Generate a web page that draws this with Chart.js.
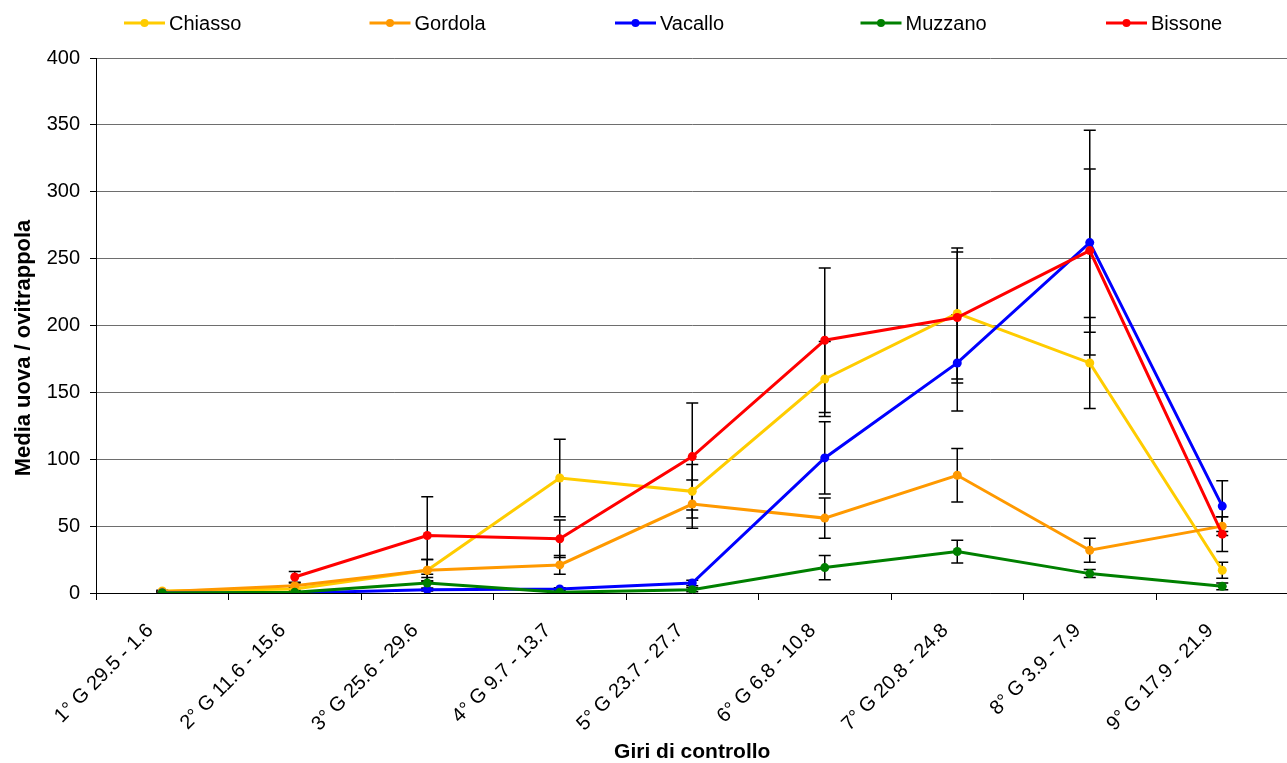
<!DOCTYPE html>
<html lang="it">
<head>
<meta charset="UTF-8">
<title>Media uova / ovitrappola</title>
<script src="https://cdn.jsdelivr.net/npm/chart.js"></script>
<style>
    body { margin: 0; background: #fff; overflow: hidden; }
    canvas { display: block; }
</style>
</head>
<body>
<canvas id="grafico" width="1293" height="763"></canvas>
<script>
// Giri di controllo
const giri = ["1° G 29.5 - 1.6", "2° G 11.6 - 15.6", "3° G 25.6 - 29.6", "4° G 9.7 - 13.7",
    "5° G 23.7 - 27.7", "6° G 6.8 - 10.8", "7° G 20.8 - 24.8", "8° G 3.9 - 7.9", "9° G 17.9 - 21.9"];

// medie uova per ovitrappola
const chiasso = [1.5, 3, 17, 86, 76, 160, 209, 172, 17];
const gordola = [1, 5.5, 17, 21, 66.5, 56, 88, 32, 50];
const vacallo = [0, 0, 2.5, 3, 7.5, 101, 172, 262, 65];
const muzzano = [0, 0.5, 7.5, 0.5, 2.5, 19, 31, 14.5, 5];
const bissone = [null, 12, 43, 40.5, 102, 189, 206, 256, 44];

// barre d'errore (+/-)
const errChiasso = [0.5, 1, 8, 29, 20, 28, 49, 34, 6];
const errGordola = [0.5, 2, 8, 7, 18, 15, 20, 9, 7];
const errVacallo = [0, 0.5, 1, 1, 2, 27, 36, 84, 19];
const errMuzzano = [0, 0.5, 4, 0.5, 1.5, 9, 8.5, 3, 2.5];
const errBissone = [null, 4, 29, 14, 40, 54, 49, 61, 13];

const yTicks = [0, 50, 100, 150, 200, 250, 300, 350, 400];

const FONT = 'Arial, "Liberation Sans", sans-serif';

function serie(nome, dati, errori, colore, ordine) {
    return {
        label: nome,
        data: dati,
        errori: errori,
        borderColor: colore,
        backgroundColor: colore,
        pointBackgroundColor: colore,
        pointBorderWidth: 0,
        pointRadius: 4.5,
        borderWidth: 3,
        tension: 0,
        order: ordine
    };
}

// disegna le barre d'errore sotto le linee
const barreErrore = {
    id: 'barreErrore',
    beforeDatasetsDraw(chart) {
        const ctx = chart.ctx;
        const y = chart.scales.y;
        ctx.save();
        ctx.strokeStyle = '#000';
        ctx.lineWidth = 1.5;
        chart.data.datasets.forEach((ds, i) => {
            const meta = chart.getDatasetMeta(i);
            ds.data.forEach((v, j) => {
                const e = ds.errori[j];
                if (v === null || !e) return;
                const px = meta.data[j].x;
                const yTop = y.getPixelForValue(v + e);
                const yBot = y.getPixelForValue(Math.max(v - e, 0));
                ctx.beginPath();
                ctx.moveTo(px, yTop); ctx.lineTo(px, yBot);
                ctx.moveTo(px - 6, yTop); ctx.lineTo(px + 6, yTop);
                ctx.moveTo(px - 6, yBot); ctx.lineTo(px + 6, yBot);
                ctx.stroke();
            });
        });
        ctx.restore();
    }
};

// legenda in alto (linea con punto) e titolo asse y
const legenda = {
    id: 'legenda',
    afterDraw(chart) {
        const ctx = chart.ctx;
        ctx.save();
        ctx.font = '20px ' + FONT;
        ctx.textBaseline = 'middle';
        chart.data.datasets.forEach((ds, i) => {
            const x = 124 + i * 245.5;
            const yy = 23;
            ctx.strokeStyle = ds.borderColor;
            ctx.lineWidth = 3;
            ctx.beginPath();
            ctx.moveTo(x, yy); ctx.lineTo(x + 41, yy);
            ctx.stroke();
            ctx.fillStyle = ds.borderColor;
            ctx.beginPath();
            ctx.arc(x + 20.5, yy, 4, 0, Math.PI * 2);
            ctx.fill();
            ctx.fillStyle = '#000';
            ctx.fillText(ds.label, x + 45, yy + 1);
        });

        ctx.translate(24, 348);
        ctx.rotate(-Math.PI / 2);
        ctx.font = 'bold 22px ' + FONT;
        ctx.textAlign = 'center';
        ctx.fillStyle = '#000';
        ctx.fillText('Media uova / ovitrappola', 0, 0);
        ctx.restore();
    }
};

new Chart(document.getElementById('grafico'), {
    type: 'line',
    data: {
        labels: giri,
        datasets: [
            serie('Chiasso', chiasso, errChiasso, '#FFCC00', 4),
            serie('Gordola', gordola, errGordola, '#FF9900', 3),
            serie('Vacallo', vacallo, errVacallo, '#0000FF', 2),
            serie('Muzzano', muzzano, errMuzzano, '#008000', 1),
            serie('Bissone', bissone, errBissone, '#FF0000', 0)
        ]
    },
    options: {
        responsive: false,
        animation: false,
        layout: { padding: { top: 58, left: 0, right: 0, bottom: 0 } },
        plugins: {
            legend: { display: false },
            tooltip: { enabled: false }
        },
        scales: {
            x: {
                offset: true,
                afterFit: s => { s.height = 170; },
                grid: { display: true, drawOnChartArea: false, offset: true, tickLength: 7, tickColor: '#000' },
                border: { color: '#000', width: 1 },
                ticks: {
                    autoSkip: false, minRotation: 45, maxRotation: 45, padding: 19, labelOffset: -12,
                    color: '#000', font: { family: FONT, size: 20 }
                },
                title: {
                    display: true, text: 'Giri di controllo', color: '#000',
                    font: { family: FONT, size: 21, weight: 'bold', lineHeight: 1 },
                    padding: { top: 0, bottom: 0 }
                }
            },
            y: {
                min: 0,
                max: 400,
                afterFit: s => { s.width = 96; },
                afterBuildTicks: s => { s.ticks = yTicks.map(v => ({ value: v })); },
                grid: { color: '#6e6e6e', lineWidth: 1, tickLength: 6, tickColor: '#000' },
                border: { color: '#000', width: 1 },
                ticks: { padding: 10, color: '#000', font: { family: FONT, size: 20 } },
                title: { display: false }
            }
        }
    },
    plugins: [barreErrore, legenda]
});
</script>
</body>
</html>
